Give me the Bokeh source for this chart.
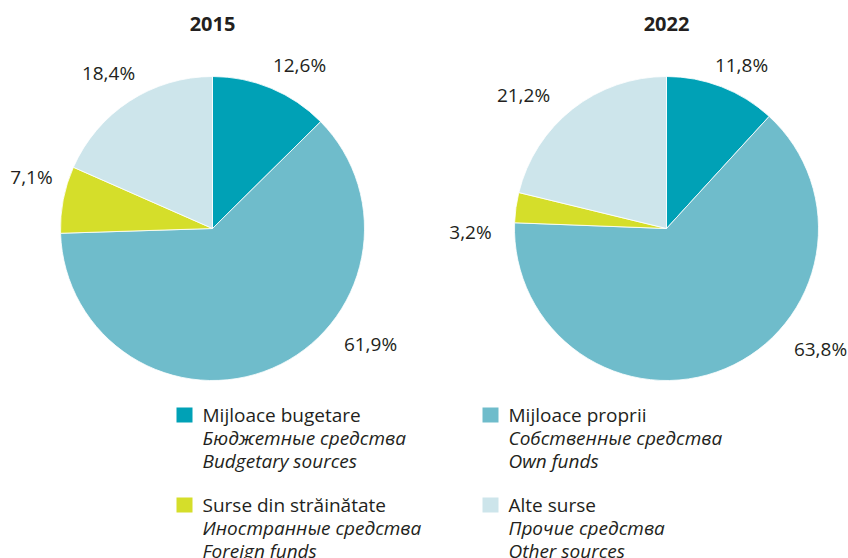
from bokeh.plotting import figure
from bokeh.models import Range1d, ColumnDataSource
from bokeh.core.properties import value
from bokeh.embed import file_html
from bokeh.resources import INLINE
import math

# ---------------- data ----------------
years = ["2015", "2022"]
categories_ro = ["Mijloace bugetare", "Mijloace proprii", "Surse din străinătate", "Alte surse"]
categories_ru = ["Бюджетные средства", "Собственные средства", "Иностранные средства", "Прочие средства"]
categories_en = ["Budgetary sources", "Own funds", "Foreign funds", "Other sources"]
values_2015 = [12.6, 61.9, 7.1, 18.4]
values_2022 = [11.8, 63.8, 3.2, 21.2]
colors = ["#00A1B6", "#6FBCCB", "#D5DE2A", "#CDE5EB"]

# ---------------- layout (pixels) ----------------
W, H = 848, 558
FONT = "Open Sans"
TXT = "#231F20"
FS = "19px"
R = 152
centers = [(212, 228), (666, 228)]
title_pos = [(212, 23), (666, 23)]
label_pos = [
    [(299, 64), (370, 343), (31, 176), (108, 72)],
    [(741, 64), (820, 348), (470, 231), (523, 94)],
]
legend_cols = [176, 482]
legend_rows = [407, 497]
legend_cells = [(0, 0), (1, 0), (0, 1), (1, 1)]
line_gap = 23


def Y(py):
    return H - py


p = figure(width=W, height=H, output_backend="svg", toolbar_location=None,
           x_range=Range1d(0, W), y_range=Range1d(0, H),
           min_border=0, min_border_left=0, min_border_right=0,
           min_border_top=0, min_border_bottom=0)
p.axis.visible = False
p.grid.visible = False
p.outline_line_color = None
p.background_fill_color = "white"
p.border_fill_color = "white"

for k, vals in enumerate([values_2015, values_2022]):
    cx, cy = centers[k]
    total = sum(vals)
    starts, ends = [], []
    acc = 0.0
    for v in vals:
        a0 = math.pi / 2 - 2 * math.pi * acc / total
        acc += v
        a1 = math.pi / 2 - 2 * math.pi * acc / total
        starts.append(a0)
        ends.append(a1)
    src = ColumnDataSource(dict(x=[cx] * 4, y=[Y(cy)] * 4, s=starts, e=ends, c=colors))
    p.wedge(x="x", y="y", radius=R, start_angle="s", end_angle="e", direction="clock",
            fill_color="c", line_color="white", line_width=0.8, source=src)

    lsrc = ColumnDataSource(dict(
        x=[q[0] for q in label_pos[k]], y=[Y(q[1]) for q in label_pos[k]],
        t=[f"{v:.1f}".replace(".", ",") + "%" for v in vals]))
    p.text(x="x", y="y", text="t", source=lsrc, text_font=value(FONT),
           text_font_size=FS, text_color=TXT, text_align="center",
           text_baseline="middle")

    p.text(x=[title_pos[k][0]], y=[Y(title_pos[k][1])], text=[years[k]],
           text_font=value(FONT), text_font_size="20px", text_font_style="bold",
           text_color=TXT, text_align="center", text_baseline="middle")

# legend
for i, (ci, ri) in enumerate(legend_cells):
    sx = legend_cols[ci]
    sy = legend_rows[ri]
    p.rect(x=[sx + 8], y=[Y(sy + 7.5)], width=16, height=15,
           fill_color=colors[i], line_color=None)
    tx = sx + 26
    p.text(x=[tx], y=[Y(sy + 7.5)], text=[categories_ro[i]], text_font=value(FONT),
           text_font_size=FS, text_color=TXT, text_align="left", text_baseline="middle")
    p.text(x=[tx, tx], y=[Y(sy + 7.5 + line_gap), Y(sy + 7.5 + 2 * line_gap)],
           text=[categories_ru[i], categories_en[i]], text_font=value(FONT),
           text_font_size=FS, text_font_style="italic", text_color=TXT,
           text_align="left", text_baseline="middle")

open("out.html", "w").write(file_html(p, INLINE))
